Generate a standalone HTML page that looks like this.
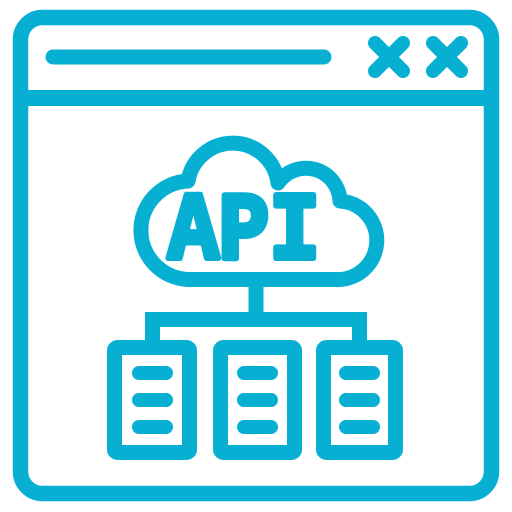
<!DOCTYPE html>
<html><head><style>html,body{margin:0;padding:0;background:#fff}svg{display:block}</style></head>
<body>
<svg width="512" height="512" viewBox="0 0 512 512" xmlns="http://www.w3.org/2000/svg">
<g fill="none" stroke="#07B0D3" stroke-linecap="round" stroke-linejoin="round">
<rect x="20.5" y="17.5" width="471" height="476" rx="22" stroke-width="15.5"/>
<line x1="20" y1="98" x2="492" y2="98" stroke-width="16" stroke-linecap="butt"/>
<line x1="53" y1="57" x2="324" y2="57" stroke-width="15"/>
<path d="M375,43 L403,71 M403,43 L375,71" stroke-width="14"/>
<path d="M433,43 L461,71 M461,43 L433,71" stroke-width="14"/>
<path d="M188,279.5 A49.3,49.3 0 0 1 188,181 A45.5,45.5 0 0 1 278,183 A34,34 0 0 1 340,201 A39.3,39.3 0 0 1 335,279.5 Z" stroke-width="15"/>
<line x1="256" y1="280" x2="256" y2="320" stroke-width="15" stroke-linecap="butt"/>
<path d="M152.5,340 V319.5 H359.5 V340" stroke-width="15" stroke-linecap="butt" stroke-linejoin="miter"/>
<rect x="114.5" y="347.5" width="75" height="105" rx="3" stroke-width="15"/>
<rect x="220.5" y="347.5" width="74" height="105" rx="3" stroke-width="15"/>
<rect x="323.5" y="347.5" width="72" height="105" rx="3" stroke-width="15"/>
<g stroke-width="14">
<path d="M139,373 H166 M139,400 H166 M139,427 H166"/>
<path d="M244,373 H271 M244,400 H271 M244,427 H271"/>
<path d="M346,373 H373 M346,400 H373 M346,427 H373"/>
</g>
</g>
<text x="168" y="258" font-family="Liberation Mono, monospace" font-weight="bold" font-size="96" textLength="152" lengthAdjust="spacingAndGlyphs" fill="#07B0D3" stroke="#07B0D3" stroke-width="6" stroke-linejoin="round">API</text>
</svg>
</body></html>
